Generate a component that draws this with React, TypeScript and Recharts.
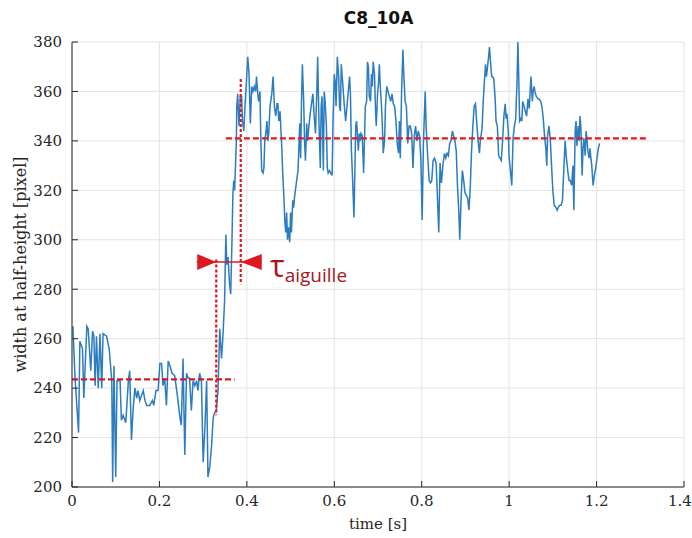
import { CartesianGrid, Line, LineChart, ReferenceDot, ReferenceLine, XAxis, YAxis } from 'recharts';

const timeS = [
  0.002, 0.007, 0.015, 0.018, 0.024, 0.027, 0.034, 0.037, 0.043, 0.047, 0.05, 0.053, 0.056, 0.06, 0.064,
  0.068, 0.071, 0.079, 0.085, 0.091, 0.093, 0.096, 0.1, 0.103, 0.11, 0.113, 0.117, 0.123, 0.129, 0.132,
  0.136, 0.14, 0.144, 0.148, 0.151, 0.155, 0.159, 0.163, 0.167, 0.171, 0.178, 0.184, 0.187, 0.192, 0.197,
  0.201, 0.205, 0.208, 0.212, 0.216, 0.22, 0.224, 0.229, 0.235, 0.241, 0.247, 0.25, 0.254, 0.258, 0.262,
  0.266, 0.269, 0.273, 0.277, 0.281, 0.285, 0.288, 0.292, 0.296, 0.3, 0.304, 0.308, 0.311, 0.315, 0.319,
  0.323, 0.326, 0.33, 0.334, 0.338, 0.342, 0.345, 0.349, 0.352, 0.354, 0.357, 0.36, 0.363, 0.366, 0.368,
  0.37, 0.372, 0.374, 0.376, 0.377, 0.379, 0.382, 0.385, 0.388, 0.39, 0.393, 0.396, 0.399, 0.402, 0.405,
  0.408, 0.411, 0.414, 0.417, 0.42, 0.422, 0.425, 0.427, 0.43, 0.432, 0.434, 0.437, 0.439, 0.441, 0.444,
  0.446, 0.448, 0.45, 0.453, 0.457, 0.46, 0.463, 0.466, 0.469, 0.471, 0.473, 0.476, 0.478, 0.48, 0.482,
  0.485, 0.487, 0.489, 0.491, 0.493, 0.495, 0.498, 0.5, 0.502, 0.505, 0.507, 0.509, 0.511, 0.514, 0.517,
  0.519, 0.521, 0.523, 0.525, 0.527, 0.53, 0.532, 0.534, 0.537, 0.539, 0.541, 0.543, 0.547, 0.551, 0.554,
  0.557, 0.56, 0.562, 0.565, 0.568, 0.57, 0.572, 0.575, 0.577, 0.579, 0.582, 0.584, 0.586, 0.589, 0.592,
  0.595, 0.597, 0.6, 0.602, 0.604, 0.607, 0.61, 0.612, 0.614, 0.616, 0.619, 0.621, 0.623, 0.626, 0.629,
  0.632, 0.635, 0.637, 0.639, 0.642, 0.645, 0.647, 0.649, 0.651, 0.655, 0.657, 0.659, 0.661, 0.664, 0.667,
  0.669, 0.671, 0.674, 0.676, 0.678, 0.68, 0.683, 0.685, 0.687, 0.689, 0.692, 0.694, 0.696, 0.699, 0.701,
  0.703, 0.705, 0.708, 0.71, 0.712, 0.715, 0.717, 0.72, 0.723, 0.726, 0.729, 0.732, 0.735, 0.738, 0.741,
  0.744, 0.747, 0.749, 0.751, 0.754, 0.757, 0.759, 0.762, 0.765, 0.768, 0.771, 0.774, 0.777, 0.78, 0.783,
  0.786, 0.789, 0.792, 0.795, 0.798, 0.801, 0.804, 0.808, 0.81, 0.813, 0.817, 0.82, 0.823, 0.826, 0.829,
  0.833, 0.836, 0.839, 0.842, 0.845, 0.849, 0.852, 0.855, 0.858, 0.861, 0.864, 0.867, 0.87, 0.873, 0.876,
  0.879, 0.882, 0.885, 0.887, 0.89, 0.893, 0.896, 0.899, 0.902, 0.905, 0.908, 0.911, 0.914, 0.917, 0.92,
  0.923, 0.926, 0.929, 0.932, 0.934, 0.938, 0.941, 0.944, 0.946, 0.948, 0.95, 0.953, 0.955, 0.957, 0.96,
  0.962, 0.965, 0.968, 0.97, 0.973, 0.976, 0.979, 0.982, 0.985, 0.988, 0.991, 0.993, 0.995, 0.998, 1.0,
  1.003, 1.006, 1.009, 1.012, 1.015, 1.018, 1.02, 1.022, 1.024, 1.027, 1.029, 1.031, 1.034, 1.037, 1.04,
  1.043, 1.046, 1.048, 1.05, 1.053, 1.055, 1.057, 1.059, 1.062, 1.066, 1.068, 1.072, 1.075, 1.078, 1.081,
  1.084, 1.086, 1.088, 1.091, 1.094, 1.097, 1.1, 1.103, 1.107, 1.11, 1.112, 1.116, 1.119, 1.122, 1.125,
  1.128, 1.131, 1.134, 1.137, 1.14, 1.143, 1.146, 1.148, 1.151, 1.153, 1.155, 1.158, 1.16, 1.162, 1.164,
  1.167, 1.169, 1.171, 1.174, 1.176, 1.178, 1.18, 1.183, 1.185, 1.187, 1.189, 1.192, 1.195, 1.198, 1.201,
  1.204, 1.207,
];

const widthPx = [
  265, 244, 222, 259, 256, 236, 265, 264, 247, 263, 261, 241, 261, 240, 262,
  240, 262, 261, 256, 243, 202, 249, 204, 243, 243, 227, 229, 226, 243, 247,
  219, 232, 240, 236, 239, 235, 237, 239, 235, 233, 233, 235, 233, 239, 239,
  250, 250, 241, 244, 233, 251, 249, 246, 245, 237, 228, 225, 252, 213, 246,
  244, 244, 231, 243, 241, 243, 239, 246, 243, 210, 224, 243, 204, 208, 216,
  228, 230, 231, 239, 264, 252, 260, 275, 302, 290, 293, 283, 278, 300, 318,
  324, 320, 330, 340, 354, 359, 346, 358, 358, 348, 344, 355, 364, 374, 367,
  347, 362, 360, 362, 360, 366, 359, 356, 360, 340, 328, 327, 329, 340, 344,
  348, 340, 343, 354, 359, 366, 354, 350, 355, 355, 348, 352, 344, 337, 327,
  316, 307, 303, 311, 300, 305, 299, 311, 303, 316, 313, 317, 320, 324, 328,
  337, 347, 333, 356, 371, 356, 340, 332, 347, 340, 344, 348, 354, 359, 350,
  343, 360, 374, 347, 329, 354, 358, 328, 360, 356, 346, 329, 327, 328, 327,
  326, 347, 367, 364, 354, 374, 366, 354, 352, 371, 364, 359, 354, 348, 354,
  360, 366, 359, 337, 324, 309, 327, 346, 348, 336, 343, 340, 343, 342, 327,
  340, 354, 356, 372, 370, 358, 356, 367, 362, 372, 367, 354, 346, 359, 363,
  371, 363, 354, 346, 335, 340, 354, 362, 360, 358, 356, 359, 355, 354, 348,
  339, 335, 348, 333, 360, 377, 367, 356, 354, 339, 346, 346, 343, 329, 342,
  346, 340, 344, 342, 333, 308, 340, 360, 346, 336, 324, 323, 324, 332, 333,
  331, 317, 303, 331, 323, 331, 335, 333, 335, 334, 339, 340, 344, 342, 340,
  336, 321, 311, 300, 316, 328, 324, 319, 318, 317, 312, 321, 336, 346, 354,
  355, 347, 340, 335, 340, 345, 357, 366, 371, 366, 369, 374, 378, 373, 366,
  366, 365, 357, 348, 346, 334, 333, 332, 340, 350, 355, 349, 351, 344, 333,
  328, 322, 341, 346, 349, 364, 380, 365, 348, 349, 348, 356, 354, 352, 350,
  357, 353, 360, 366, 356, 360, 362, 360, 358, 357, 357, 356, 354, 349, 342,
  337, 330, 342, 346, 341, 330, 320, 314, 313, 312, 313, 314, 314, 316, 328,
  340, 333, 328, 324, 324, 322, 330, 312, 344, 348, 338, 346, 340, 350, 346,
  326, 337, 341, 334, 344, 341, 336, 333, 337, 333, 330, 322, 326, 329, 333,
  337, 339,
];

const xTicks = [0, 0.2, 0.4, 0.6, 0.8, 1, 1.2, 1.4];
const yTicks = [200, 220, 240, 260, 280, 300, 320, 340, 360, 380];

// annotation: mean level before / after the jump and rise-time bounds
const levelBefore = 243.5;
const levelAfter = 341;
const riseStart = 0.33;
const riseEnd = 0.386;
const arrowLevel = 291;

const BLUE = '#2b7cc0';
const RED = '#dc1820';
const DARK_RED = '#a8161c';
const AXIS = '#262626';
const GRID = '#e4e4e4';

const data = timeS.map((t, i) => ({ t, w: widthPx[i] }));

function ArrowRight(props: { cx?: number; cy?: number }) {
  const { cx = 0, cy = 0 } = props;
  return <path d={`M${cx},${cy} L${cx - 19},${cy - 8} L${cx - 19},${cy + 8} Z`} fill={RED} />;
}

function ArrowLeft(props: { cx?: number; cy?: number }) {
  const { cx = 0, cy = 0 } = props;
  return <path d={`M${cx},${cy} L${cx + 21},${cy - 8} L${cx + 21},${cy + 8} Z`} fill={RED} />;
}

// bottom tick label; keeps the last label inside the picture
function TimeTick(props: { x?: number; y?: number; payload?: { value: number } }) {
  const { x = 0, y = 0, payload } = props;
  const label = String(payload?.value ?? '');
  const cx = Math.min(x, 692 - 12);
  return (
    <text x={cx} y={y} dy="0.71em" textAnchor="middle" fontFamily="DejaVu Serif" fontSize={15} fill={AXIS}>
      {label}
    </text>
  );
}

const tickFont = { fontFamily: 'DejaVu Serif', fontSize: 15, fill: AXIS };

export default function App() {
  return (
    <div style={{ position: 'absolute', left: 0, top: 0, width: 692, height: 538, background: '#fff' }}>
      <LineChart
        width={692}
        height={538}
        data={data}
        margin={{ top: 42, right: 8, bottom: 1, left: 12 }}
      >
        <CartesianGrid stroke={GRID} />
        <XAxis
          type="number"
          dataKey="t"
          domain={[0, 1.4]}
          ticks={xTicks}
          height={50}
          tickSize={-6}
          tickMargin={14}
          tick={<TimeTick />}
          axisLine={{ stroke: AXIS }}
          tickLine={{ stroke: AXIS }}
          label={{
            value: 'time [s]',
            position: 'center',
            dy: 12,
            style: { fontFamily: 'DejaVu Serif', fontSize: 15, fill: AXIS },
          }}
        />
        <YAxis
          type="number"
          domain={[200, 380]}
          ticks={yTicks}
          width={60}
          tickSize={-6}
          tickMargin={16}
          tick={tickFont}
          axisLine={{ stroke: AXIS }}
          tickLine={{ stroke: AXIS }}
          label={{
            value: 'width at half-height [pixel]',
            angle: -90,
            position: 'center',
            dx: -22,
            style: { fontFamily: 'DejaVu Serif', fontSize: 16, fill: AXIS, textAnchor: 'middle' },
          }}
        />
        <Line
          dataKey="w"
          type="linear"
          stroke={BLUE}
          strokeWidth={1.5}
          dot={false}
          isAnimationActive={false}
        />
        <ReferenceLine
          segment={[{ x: 0, y: levelBefore }, { x: 0.372, y: levelBefore }]}
          stroke={RED}
          strokeWidth={2.2}
          strokeDasharray="6 3"
        />
        <ReferenceLine
          segment={[{ x: 0.352, y: levelAfter }, { x: 1.315, y: levelAfter }]}
          stroke={RED}
          strokeWidth={2.2}
          strokeDasharray="6 3"
        />
        <ReferenceLine
          segment={[{ x: riseStart, y: 292 }, { x: riseStart, y: 229 }]}
          stroke={RED}
          strokeWidth={2.2}
          strokeDasharray="3 2"
        />
        <ReferenceLine
          segment={[{ x: riseEnd, y: 365 }, { x: riseEnd, y: 282 }]}
          stroke={RED}
          strokeWidth={2.2}
          strokeDasharray="3 2"
        />
        <ReferenceLine
          segment={[{ x: 0.285, y: arrowLevel }, { x: 0.434, y: arrowLevel }]}
          stroke={RED}
          strokeWidth={1.5}
        />
        <ReferenceDot x={riseStart} y={arrowLevel} r={1} shape={<ArrowRight />} />
        <ReferenceDot x={riseEnd} y={arrowLevel} r={1} shape={<ArrowLeft />} />
      </LineChart>
      <svg
        width={692}
        height={538}
        style={{ position: 'absolute', left: 0, top: 0, pointerEvents: 'none' }}
      >
        <text
          x={378.5}
          y={24}
          textAnchor="middle"
          fontFamily="DejaVu Sans"
          fontWeight="bold"
          fontSize={17}
          fill="#111"
        >
          C8_10A
        </text>
        <text x={270} y={277} fontFamily="Open Sans" fill={DARK_RED}>
          <tspan fontSize={31}>τ</tspan>
          <tspan fontSize={19} dy={5}>aiguille</tspan>
        </text>
      </svg>
    </div>
  );
}
